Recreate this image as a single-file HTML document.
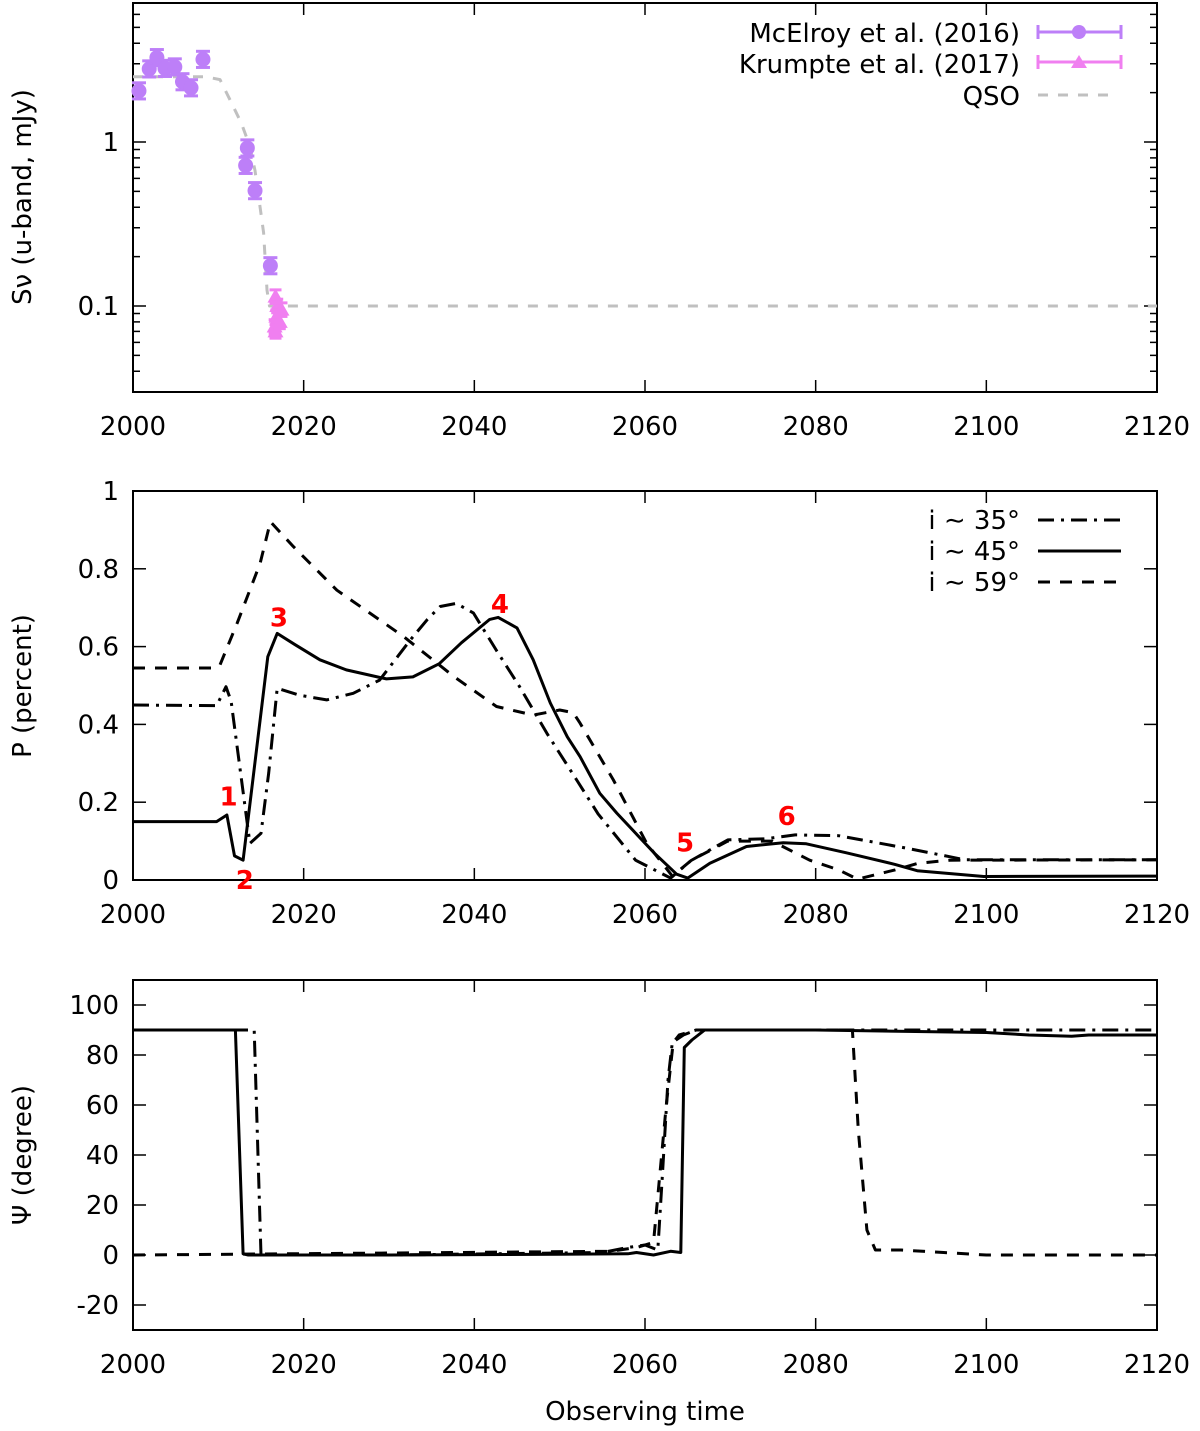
<!DOCTYPE html>
<html><head><meta charset="utf-8"><style>
html,body{margin:0;padding:0;background:#fff;}
svg{display:block;font-family:"DejaVu Sans","Liberation Sans",sans-serif;}
</style></head><body>
<svg id="fig" width="1200" height="1431" viewBox="0 0 1200 1431" xmlns="http://www.w3.org/2000/svg">
<g id="g1"></g>
<g id="g2"></g>
<g id="g3"></g>
<text x="645" y="1420" text-anchor="middle" font-size="26">Observing time</text>
</svg>
<script>
// ---------- data ----------
const xTicks = [2000,2020,2040,2060,2080,2100,2120];
const mcYears = [2000.7,2001.9,2002.8,2003.75,2004.9,2005.8,2006.8,2008.2,2013.4,2013.2,2014.3,2016.1];
const mcFlux  = [2.05,2.79,3.27,2.81,2.87,2.33,2.14,3.19,0.92,0.72,0.505,0.176];
const krYears = [2016.7,2016.9,2016.8,2016.6,2016.7,2017.2,2017.4];
const krFlux  = [0.114,0.1,0.086,0.075,0.07,0.08,0.095];
const qsoYears = [2000,2008.5,2010.2,2011.5,2012.7,2013.7,2014.3,2014.9,2015.3,2015.7,2016,2120];
const qsoFlux  = [2.5,2.5,2.4,1.75,1.3,0.94,0.67,0.40,0.28,0.125,0.1,0.1];
const fluxTickLabels = ["1","0.1"];
const fluxTickValues = [1,0.1];

const pYears45 = [2000,2009.8,2011,2011.9,2012.9,2015.8,2016.9,2019,2021.9,2025,2029.7,2032.8,2035.9,2038.5,2041.8,2042.8,2045,2046.9,2048.9,2050.9,2052.4,2054.7,2056.7,2061.1,2063.7,2065,2067.6,2071.9,2076.2,2078.9,2083.6,2089.3,2091.9,2099.7,2120];
const pVals45  = [0.15,0.15,0.167,0.062,0.051,0.574,0.634,0.605,0.566,0.54,0.517,0.522,0.556,0.61,0.67,0.675,0.648,0.566,0.455,0.368,0.317,0.223,0.172,0.069,0.015,0.005,0.043,0.086,0.096,0.093,0.07,0.04,0.024,0.009,0.01];
const pYears35 = [2000,2009.8,2010.9,2011.5,2013.7,2015,2015.9,2016.9,2019.5,2022.7,2025.8,2028.9,2032.5,2034.5,2036,2037.9,2039.9,2042.6,2045.3,2048.5,2052,2054.5,2058.9,2063,2065.4,2069.7,2074.1,2077.6,2082.7,2090.6,2095.7,2097.5,2120];
const pVals35  = [0.45,0.448,0.497,0.46,0.094,0.12,0.275,0.493,0.475,0.463,0.48,0.514,0.617,0.67,0.703,0.711,0.686,0.59,0.497,0.377,0.257,0.17,0.051,0.005,0.05,0.103,0.106,0.116,0.114,0.082,0.06,0.052,0.052];
const pYears59 = [2000,2009.5,2010.2,2012.2,2014.9,2016.1,2018.8,2023.9,2031.7,2037.6,2042.6,2046.9,2050,2051.6,2052.4,2056.3,2060.2,2063.2,2065.4,2069.7,2074.9,2079.3,2082.7,2084.9,2089.3,2092,2095.7,2120];
const pVals59  = [0.545,0.545,0.553,0.66,0.814,0.921,0.857,0.745,0.626,0.523,0.446,0.424,0.437,0.43,0.403,0.257,0.094,0.01,0.05,0.1,0.1,0.051,0.026,0.002,0.026,0.043,0.051,0.052];
const pTicks = [0,0.2,0.4,0.6,0.8,1];
const pTickLabels = ["0","0.2","0.4","0.6","0.8","1"];

const aYears45 = [2000,2012,2012.9,2013.5,2030,2050,2058,2059,2061,2063,2064.2,2064.6,2065.5,2067,2080,2100,2105,2110,2112,2120];
const aVals45  = [90,90,0.5,0,0,0.3,0.5,1,0,1.5,1,83,86,90,90,89,88,87.5,88,88];
const aYears35 = [2000,2014.2,2015,2030,2055,2058,2060,2061.5,2062,2062.7,2063.2,2064.5,2066,2120];
const aVals35  = [90,90,0,0,1,3,4,2,30,70,85,88,90,90];
const aYears59 = [2000,2056,2059,2061,2062.5,2063.3,2064,2066,2084.3,2085,2086,2087,2090,2095,2100,2120];
const aVals59  = [0,1.5,3,5,60,85,88,90,90,50,10,2,2,1,0,0];
const aTicks = [-20,0,20,40,60,80,100];
const aTickLabels = ["-20","0","20","40","60","80","100"];

const legend2Labels = ["i ∼ 35°","i ∼ 45°","i ∼ 59°"];
const markLabels = ["1","2","3","4","5","6"];
const markYears = [2011.2,2013.1,2017.1,2043.0,2064.7,2076.6];
const markVals  = [0.215,0.0,0.675,0.71,0.096,0.165];

// ---------- layout ----------
const NS = "http://www.w3.org/2000/svg";
const L = 133, R = 1157;
const xs = y => L + (y - 2000) / 120 * (R - L);
const P1 = {top:3, bot:392};
const fy = v => 306 - (Math.log10(v) + 1) * 164;
const P2 = {top:491, bot:880};
const py = v => P2.bot - v * (P2.bot - P2.top);
const P3 = {top:980, bot:1330};
const ay = v => 1255 - v * 2.5;
const FS = 26;

function el(tag, attrs, parent){
  const e = document.createElementNS(NS, tag);
  for (const k in attrs) e.setAttribute(k, attrs[k]);
  parent.appendChild(e); return e;
}
function txt(s, x, y, anchor, size, parent, name, fill, weight){
  const t = el('text', {x:x, y:y, 'text-anchor':anchor, 'font-size':size, fill:fill||'#000'}, parent);
  if (weight) t.setAttribute('font-weight', weight);
  t.textContent = s;
  
  
  return t;
}
function frame(g, P, name){
  const r = el('rect', {x:L, y:P.top, width:R-L, height:P.bot-P.top, fill:'none', stroke:'#000', 'stroke-width':2}, g);
  
  
  xTicks.forEach((t,i)=>{
    const x = xs(t);
    el('line', {x1:x, y1:P.bot, x2:x, y2:P.bot-12, stroke:'#000','stroke-width':1.5}, g);
    el('line', {x1:x, y1:P.top, x2:x, y2:P.top+12, stroke:'#000','stroke-width':1.5}, g);
    txt(String(t), x, P.bot+43, 'middle', FS, g, 'x-tick-label');
  });
}
function path(g, xsArr, ysArr, fx, fyf, dash, color, name, w){
  let d = '';
  xsArr.forEach((x,i)=>{ d += (i?'L':'M') + fx(x).toFixed(1) + ',' + fyf(ysArr[i]).toFixed(1); });
  const p = el('path', {d:d, fill:'none', stroke:color, 'stroke-width':w||3, 'stroke-linejoin':'round'}, g);
  if (dash) p.setAttribute('stroke-dasharray', dash);
  
  
  return p;
}

// ---------- panel 1 ----------
const g1 = document.getElementById('g1');
frame(g1, P1, 'flux-plot-frame');
[0.04,0.05,0.06,0.07,0.08,0.09,0.2,0.3,0.4,0.5,0.6,0.7,0.8,0.9,2,3,4,5,6].forEach(v=>{
  const y = fy(v);
  el('line',{x1:L,y1:y,x2:L+7,y2:y,stroke:'#000','stroke-width':1.5},g1);
  el('line',{x1:R,y1:y,x2:R-7,y2:y,stroke:'#000','stroke-width':1.5},g1);
});
fluxTickValues.forEach((v,i)=>{
  const y = fy(v);
  el('line',{x1:L,y1:y,x2:L+13,y2:y,stroke:'#000','stroke-width':1.5},g1);
  el('line',{x1:R,y1:y,x2:R-13,y2:y,stroke:'#000','stroke-width':1.5},g1);
  txt(fluxTickLabels[i], L-14, y+9, 'end', FS, g1, 'y-tick-label');
});
const yt1 = txt('Sν (u-band, mJy)', 0, 0, 'middle', FS, g1, 'y-axis-title');
yt1.setAttribute('transform','translate(31,197) rotate(-90)');
path(g1, qsoYears, qsoFlux, xs, fy, '10,10', '#c0c0c0', 'qso-line', 3);
const MC = '#bd7ff8', KR = '#f07ff0';
mcYears.forEach((yr,i)=>{
  const x = xs(yr), y = fy(mcFlux[i]);
  const g = el('g',{},g1);
  
  
  const y1 = fy(mcFlux[i]*1.12), y2 = fy(mcFlux[i]/1.12);
  el('line',{x1:x,y1:y1,x2:x,y2:y2,stroke:MC,'stroke-width':3},g);
  el('line',{x1:x-7,y1:y1,x2:x+7,y2:y1,stroke:MC,'stroke-width':3},g);
  el('line',{x1:x-7,y1:y2,x2:x+7,y2:y2,stroke:MC,'stroke-width':3},g);
  el('circle',{cx:x,cy:y,r:7.5,fill:MC},g);
});
krYears.forEach((yr,i)=>{
  const x = xs(yr), y = fy(krFlux[i]);
  const g = el('g',{},g1);
  
  
  const y1 = fy(krFlux[i]*1.1), y2 = fy(krFlux[i]/1.1);
  el('line',{x1:x,y1:y1,x2:x,y2:y2,stroke:KR,'stroke-width':3},g);
  el('line',{x1:x-6,y1:y1,x2:x+6,y2:y1,stroke:KR,'stroke-width':3},g);
  el('line',{x1:x-6,y1:y2,x2:x+6,y2:y2,stroke:KR,'stroke-width':3},g);
  el('polygon',{points:`${x},${y-8} ${x-8},${y+6} ${x+8},${y+6}`,fill:KR},g);
});
(function(){
  const lg = el('g',{},g1);
  
  
  txt('McElroy et al. (2016)', 1020, 42, 'end', FS, lg, 'legend-entry');
  txt('Krumpte et al. (2017)', 1020, 73, 'end', FS, lg, 'legend-entry');
  txt('QSO', 1020, 105, 'end', FS, lg, 'legend-entry');
  [[32,MC],[62,KR]].forEach(([y,c],k)=>{
    el('line',{x1:1038,y1:y,x2:1121,y2:y,stroke:c,'stroke-width':3},lg);
    el('line',{x1:1038,y1:y-7,x2:1038,y2:y+7,stroke:c,'stroke-width':3},lg);
    el('line',{x1:1121,y1:y-7,x2:1121,y2:y+7,stroke:c,'stroke-width':3},lg);
    if(k==0) el('circle',{cx:1079,cy:y,r:7,fill:c},lg);
    else el('polygon',{points:`1079,${y-7} 1071,${y+6} 1087,${y+6}`,fill:c},lg);
  });
  el('line',{x1:1038,y1:95,x2:1115,y2:95,stroke:'#c0c0c0','stroke-width':3,'stroke-dasharray':'10,10'},lg);
})();

// ---------- panel 2 ----------
const g2 = document.getElementById('g2');
frame(g2, P2, 'polarization-plot-frame');
pTicks.forEach((v,i)=>{
  const y = py(v);
  el('line',{x1:L,y1:y,x2:L+13,y2:y,stroke:'#000','stroke-width':1.5},g2);
  el('line',{x1:R,y1:y,x2:R-13,y2:y,stroke:'#000','stroke-width':1.5},g2);
  txt(pTickLabels[i], L-14, y+9, 'end', FS, g2, 'y-tick-label');
});
const yt2 = txt('P (percent)', 0, 0, 'middle', FS, g2, 'y-axis-title');
yt2.setAttribute('transform','translate(31,686) rotate(-90)');
path(g2, pYears59, pVals59, xs, py, '12,10', '#000', 'line-i59', 3);
path(g2, pYears35, pVals35, xs, py, '16,7,3,7', '#000', 'line-i35', 3);
path(g2, pYears45, pVals45, xs, py, null, '#000', 'line-i45', 3);
markLabels.forEach((s,i)=>{
  txt(s, xs(markYears[i]), py(markVals[i])+9, 'middle', 26, g2, 'event-label', '#ff0000', 'bold');
});
(function(){
  const lg = el('g',{},g2);
  
  
  const dashes = ['16,7,3,7', null, '12,10'];
  legend2Labels.forEach((s,i)=>{
    const y = 520 + i*31;
    txt(s, 1020, y+9, 'end', FS, lg, 'legend-entry');
    const l = el('line',{x1:1038,y1:y,x2:1121,y2:y,stroke:'#000','stroke-width':3},lg);
    if (dashes[i]) l.setAttribute('stroke-dasharray', dashes[i]);
  });
})();

// ---------- panel 3 ----------
const g3 = document.getElementById('g3');
frame(g3, P3, 'angle-plot-frame');
aTicks.forEach((v,i)=>{
  const y = ay(v);
  el('line',{x1:L,y1:y,x2:L+13,y2:y,stroke:'#000','stroke-width':1.5},g3);
  el('line',{x1:R,y1:y,x2:R-13,y2:y,stroke:'#000','stroke-width':1.5},g3);
  txt(aTickLabels[i], L-14, y+9, 'end', FS, g3, 'y-tick-label');
});
const yt3 = txt('Ψ (degree)', 0, 0, 'middle', FS, g3, 'y-axis-title');
yt3.setAttribute('transform','translate(31,1155) rotate(-90)');
path(g3, aYears59, aVals59, xs, ay, '12,10', '#000', 'angle-i59', 3);
path(g3, aYears35, aVals35, xs, ay, '16,7,3,7', '#000', 'angle-i35', 3);
path(g3, aYears45, aVals45, xs, ay, null, '#000', 'angle-i45', 3);
</script>
</body></html>
